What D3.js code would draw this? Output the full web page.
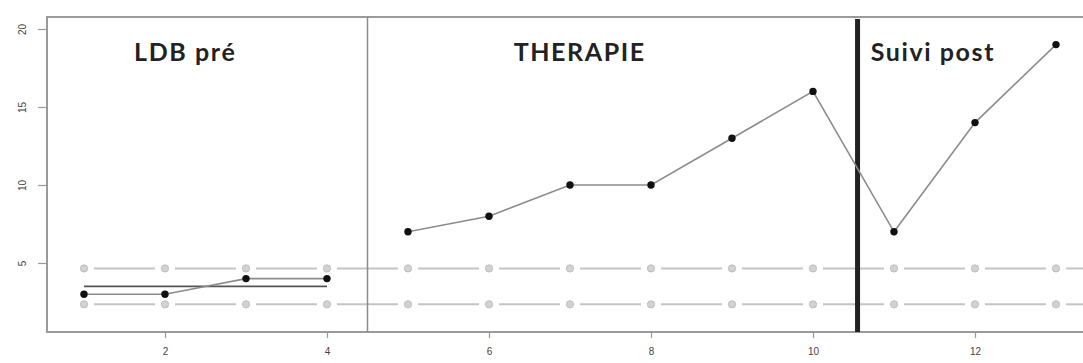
<!DOCTYPE html>
<html>
<head>
<meta charset="utf-8">
<script src="https://cdn.jsdelivr.net/npm/d3@7/dist/d3.min.js"></script>
<style>
  html, body { margin: 0; padding: 0; background: #fff; }
  svg { display: block; }
</style>
</head>
<body>
<svg id="chart" width="1083" height="363"></svg>
<script>
// Sessions and scores
const sessions = [1, 2, 3, 4, 5, 6, 7, 8, 9, 10, 11, 12, 13];
const baselineSessions = [1, 2, 3, 4];
const baselineScores = [3, 3, 4, 4];
const treatmentSessions = [5, 6, 7, 8, 9, 10, 11, 12, 13];
const treatmentScores = [7, 8, 10, 10, 13, 16, 7, 14, 19];
// Baseline mean and the ±2 SD band drawn across all sessions
const baselineMean = [3.5];
const bandLevels = [4.65, 2.35];
// Phase boundaries and phase titles
const phaseBreaks = [4.5, 10.55];
const phaseTitles = ["LDB pré", "THERAPIE", "Suivi post"];
const phaseTitleX = [2.25, 7.12, 11.48];
const xTicks = [2, 4, 6, 8, 10, 12];
const yTicks = [5, 10, 15, 20];

const svg = d3.select("#chart");
const x = d3.scaleLinear().domain([1, 13]).range([84, 1056]);
const y = d3.scaleLinear().domain([5, 20]).range([263, 29]);

const frame = { left: 47, top: 17, right: 1100, bottom: 332 };

// plot frame
svg.append("rect")
  .attr("x", frame.left).attr("y", frame.top)
  .attr("width", frame.right - frame.left).attr("height", frame.bottom - frame.top)
  .attr("fill", "none").attr("stroke", "#9a9a9a").attr("stroke-width", 2);

// x axis
const xAxis = svg.append("g").attr("transform", `translate(0,${frame.bottom})`)
  .call(d3.axisBottom(x).tickValues(xTicks).tickSize(6).tickPadding(10).tickFormat(d3.format("d")));
xAxis.select(".domain").remove();
xAxis.selectAll("line").attr("stroke", "#999").attr("stroke-width", 1.2);
xAxis.selectAll("text").attr("fill", "#444").attr("font-family", "Liberation Sans, Arial, sans-serif").attr("font-size", 10);

// y axis (labels rotated, as in base graphics)
const yAxis = svg.append("g").attr("transform", `translate(${frame.left},0)`)
  .call(d3.axisLeft(y).tickValues(yTicks).tickSize(9).tickFormat(d3.format("d")));
yAxis.select(".domain").remove();
yAxis.selectAll("line").attr("stroke", "#999").attr("stroke-width", 1.2);
yAxis.selectAll("text")
  .attr("fill", "#444").attr("font-family", "Liberation Sans, Arial, sans-serif").attr("font-size", 10)
  .attr("x", null)
  .attr("text-anchor", "middle")
  .attr("transform", "translate(-25,0) rotate(-90)")
  .attr("dy", "0.35em");

// ±2 SD band: lines broken around each marker
const gap = 10;
bandLevels.forEach(level => {
  const g = svg.append("g");
  d3.pairs(sessions).forEach(([a, b]) => {
    g.append("line")
      .attr("x1", x(a) + gap).attr("x2", x(b) - gap)
      .attr("y1", y(level)).attr("y2", y(level))
      .attr("stroke", "#c4c4c4").attr("stroke-width", 2);
  });
  // segment crossing the right edge
  g.append("line")
    .attr("x1", x(13) + gap).attr("x2", 1083)
    .attr("y1", y(level)).attr("y2", y(level))
    .attr("stroke", "#c4c4c4").attr("stroke-width", 2);
  g.selectAll("circle").data(sessions).join("circle")
    .attr("cx", d => x(d)).attr("cy", y(level)).attr("r", 3.6)
    .attr("fill", "#d2d2d2").attr("stroke", "#bdbdbd").attr("stroke-width", 1);
});

// baseline mean line
svg.append("line")
  .attr("x1", x(baselineSessions[0])).attr("x2", x(baselineSessions[baselineSessions.length - 1]))
  .attr("y1", y(baselineMean[0])).attr("y2", y(baselineMean[0]))
  .attr("stroke", "#555").attr("stroke-width", 1.6);

// phase boundaries
svg.append("line")
  .attr("x1", x(phaseBreaks[0])).attr("x2", x(phaseBreaks[0]))
  .attr("y1", frame.top).attr("y2", frame.bottom)
  .attr("stroke", "#8a8a8a").attr("stroke-width", 1.5);
svg.append("line")
  .attr("x1", x(phaseBreaks[1])).attr("x2", x(phaseBreaks[1]))
  .attr("y1", frame.top + 2).attr("y2", frame.bottom)
  .attr("stroke", "#222").attr("stroke-width", 5);

// score series
const line = d3.line().x(d => x(d[0])).y(d => y(d[1]));
[[baselineSessions, baselineScores], [treatmentSessions, treatmentScores]].forEach(([xs, ys]) => {
  const pts = d3.zip(xs, ys);
  svg.append("path").datum(pts).attr("d", line)
    .attr("fill", "none").attr("stroke", "#8c8c8c").attr("stroke-width", 1.6);
  svg.append("g").selectAll("circle").data(pts).join("circle")
    .attr("cx", d => x(d[0])).attr("cy", d => y(d[1])).attr("r", 3.7)
    .attr("fill", "#111");
});

// phase titles
svg.append("g").selectAll("text").data(phaseTitles).join("text")
  .attr("x", (d, i) => x(phaseTitleX[i]))
  .attr("y", 61)
  .attr("text-anchor", "middle")
  .attr("font-family", "Lato, 'Open Sans', sans-serif")
  .attr("font-weight", "bold")
  .attr("font-size", 25)
  .attr("letter-spacing", 1.6)
  .attr("fill", "#222")
  .text(d => d);
</script>
</body>
</html>
